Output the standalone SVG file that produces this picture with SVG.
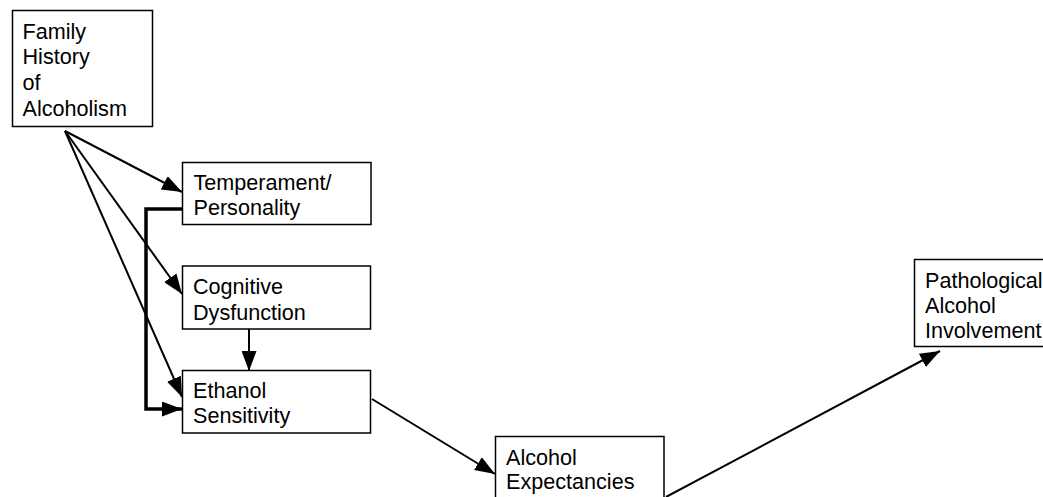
<svg xmlns="http://www.w3.org/2000/svg" width="1043" height="497" viewBox="0 0 1043 497">
<style>
.box{fill:#fff;stroke:#000;stroke-width:1.5}
.t{font-family:"Liberation Sans",Arial,sans-serif;font-size:21.6px;fill:#000}
.c{fill:none;stroke:#000;stroke-width:2}
.ck{fill:none;stroke:#000;stroke-width:3.5}
</style>
<defs>
<marker id="ah" markerUnits="userSpaceOnUse" markerWidth="20" markerHeight="15" refX="20" refY="7.5" orient="auto" viewBox="0 0 20 15">
<path d="M0,0 L20,7.5 L0,15 z" fill="#000"/>
</marker>
</defs>
<rect width="1043" height="497" fill="#fff"/>
<g id="connectors">
<line class="c" x1="65" y1="131" x2="182" y2="192" marker-end="url(#ah)"/>
<line class="c" x1="65" y1="131" x2="182" y2="294" marker-end="url(#ah)"/>
<line class="c" x1="65" y1="131" x2="182" y2="397" marker-end="url(#ah)"/>
<polyline class="ck" points="182,209 146,209 146,409 182,409" marker-end="url(#ah)"/>
<line class="c" x1="249" y1="329" x2="249" y2="371" marker-end="url(#ah)"/>
<line class="c" x1="372" y1="399" x2="495" y2="474" marker-end="url(#ah)"/>
<line class="c" x1="666" y1="497" x2="940" y2="351" marker-end="url(#ah)"/>
</g>
<g id="family">
<rect class="box" x="12.5" y="10.5" width="140" height="116"/>
<text class="t" x="22.5" y="38.5">Family</text>
<text class="t" x="22.5" y="64">History</text>
<text class="t" x="22.5" y="90">of</text>
<text class="t" x="22.5" y="116">Alcoholism</text>
</g>
<g id="temperament">
<rect class="box" x="182.5" y="162.5" width="188.5" height="62"/>
<text class="t" x="193.5" y="189.5">Temperament/</text>
<text class="t" x="193.5" y="214.5">Personality</text>
</g>
<g id="cognitive">
<rect class="box" x="182.5" y="266" width="188" height="63"/>
<text class="t" x="193" y="294">Cognitive</text>
<text class="t" x="193" y="320">Dysfunction</text>
</g>
<g id="ethanol">
<rect class="box" x="182.5" y="370.5" width="188" height="62.5"/>
<text class="t" x="193" y="398">Ethanol</text>
<text class="t" x="193" y="423">Sensitivity</text>
</g>
<g id="expectancies">
<rect class="box" x="495.5" y="436.5" width="168.5" height="70"/>
<text class="t" x="506" y="465">Alcohol</text>
<text class="t" x="506" y="489">Expectancies</text>
</g>
<g id="pathological">
<rect class="box" x="914.5" y="259.5" width="140" height="87"/>
<text class="t" x="925" y="288">Pathological</text>
<text class="t" x="925" y="312.5">Alcohol</text>
<text class="t" x="925" y="338">Involvement</text>
</g>
</svg>
